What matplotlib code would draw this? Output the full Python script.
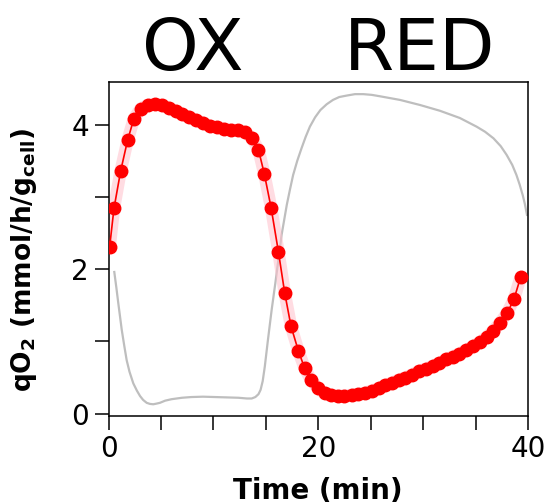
import numpy as np
import matplotlib.pyplot as plt

# qO2 time course (red points)
t_qo2 = [0.1, 0.52, 1.16, 1.83, 2.42, 3.07, 3.73, 4.4, 5.06, 5.73, 6.39, 7.05,
         7.72, 8.38, 9.05, 9.71, 10.37, 11.04, 11.7, 12.37, 13.03, 13.7,
         14.3, 14.85, 15.5, 16.2, 16.8, 17.4, 18.1, 18.7, 19.3, 19.95, 20.6,
         21.25, 21.9, 22.5, 23.2, 23.8, 24.5, 25.1, 25.75, 26.4, 27.05, 27.7,
         28.3, 28.95, 29.6, 30.25, 30.9, 31.55, 32.2, 32.8, 33.45, 34.1,
         34.75, 35.4, 36.05, 36.7, 37.35, 38.0, 38.65, 39.3]
qo2 = [2.30, 2.84, 3.36, 3.79, 4.08, 4.22, 4.27, 4.28, 4.27, 4.23, 4.19, 4.14,
       4.10, 4.06, 4.02, 3.98, 3.96, 3.94, 3.93, 3.92, 3.89, 3.81,
       3.65, 3.32, 2.85, 2.24, 1.67, 1.21, 0.87, 0.63, 0.47, 0.35, 0.28,
       0.26, 0.25, 0.25, 0.26, 0.27, 0.29, 0.32, 0.35, 0.39, 0.43, 0.47,
       0.50, 0.54, 0.59, 0.62, 0.66, 0.70, 0.75, 0.79, 0.83, 0.88,
       0.93, 0.99, 1.06, 1.15, 1.26, 1.39, 1.58, 1.89]

# grey trace
t_grey = [0.55, 0.75, 0.93, 1.1, 1.26, 1.5, 1.73, 2.0, 2.36, 2.7, 3.0, 3.3,
          3.64, 3.95, 4.27, 4.6, 4.9, 5.4, 6.0, 7.0, 7.9, 9.0, 10.15, 11.3,
          12.4, 13.2, 13.65, 14.0, 14.3, 14.5, 14.7, 14.9, 15.2, 15.55, 15.9,
          16.2, 16.5, 17.0, 17.3, 17.6, 18.0, 18.4, 18.8, 19.2, 19.7, 20.2,
          20.8, 21.4, 22.0, 22.7, 23.5, 24.3, 25.1, 25.9, 27.8, 29.7, 31.6,
          33.5, 35.1, 35.9, 36.7, 37.4, 37.96, 38.5, 38.9, 39.2, 39.5, 39.7,
          39.9]
grey = [1.96, 1.74, 1.53, 1.34, 1.16, 0.94, 0.74, 0.58, 0.42, 0.32, 0.245, 0.19,
        0.15, 0.135, 0.13, 0.14, 0.15, 0.18, 0.20, 0.22, 0.23, 0.235, 0.23, 0.225,
        0.22, 0.21, 0.21, 0.23, 0.27, 0.33, 0.45, 0.65, 1.02, 1.43, 1.80,
        2.13, 2.47, 2.89, 3.10, 3.30, 3.50, 3.67, 3.83, 3.97, 4.10, 4.20,
        4.28, 4.34, 4.38, 4.40, 4.42, 4.42, 4.41, 4.39, 4.34, 4.27, 4.19,
        4.09, 3.97, 3.90, 3.81, 3.70, 3.58, 3.44, 3.30, 3.17, 3.02, 2.90,
        2.75]

fig = plt.figure(figsize=(5.47, 5.04), dpi=100)
ax = fig.add_axes([0.1984, 0.1752, 0.7669, 0.6621])

ax.plot(t_grey, grey, color='#BEBEBE', lw=1.6, zorder=1)
ax.plot(t_qo2, qo2, color='pink', lw=9, alpha=0.55, solid_capstyle='round', zorder=2)
ax.plot(t_qo2, qo2, color='red', lw=1.2, marker='o', ms=9, mec='red', zorder=3)

ax.set_xlim(0, 40)
ax.set_ylim(-0.028, 4.588)
ax.set_xticks(range(0, 41, 5))
ax.set_xticklabels(['0', '', '', '', '20', '', '', '', '40'])
ax.set_yticks([0, 1, 2, 3, 4])
ax.set_yticklabels(['0', '', '2', '', '4'])
ax.tick_params(length=10, width=1.1, labelsize=20, pad=4)
for s in ax.spines.values():
    s.set_linewidth(1.1)

ax.set_xlabel('Time (min)', fontsize=20, fontweight='bold', labelpad=10)
ax.set_ylabel(r'qO$_\mathbf{2}$ (mmol/h/g$_\mathbf{cell}$)', fontsize=19,
              fontweight='bold')
ax.yaxis.set_label_coords(-0.165, 0.467)

fig.text(193 / 547, 1 - 70 / 504, 'OX', fontsize=52, ha='center', va='baseline')
fig.text(420 / 547, 1 - 70 / 504, 'RED', fontsize=52, ha='center', va='baseline')

fig.savefig('out.png', dpi=100)
